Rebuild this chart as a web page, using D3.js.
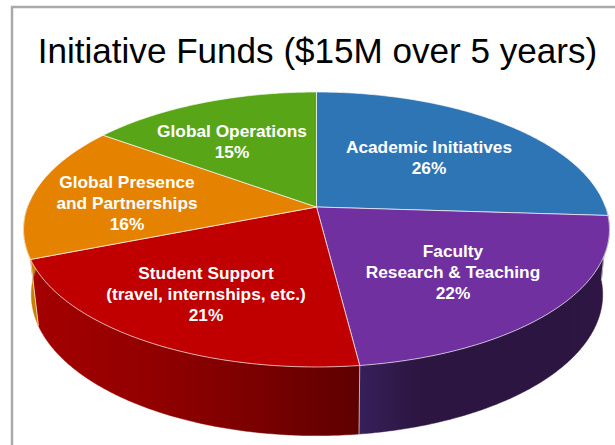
<!DOCTYPE html>
<html>
<head>
<meta charset="utf-8">
<script src="https://cdn.jsdelivr.net/npm/d3@7"></script>
<style>
	html, body { margin: 0; padding: 0; background: #fff; overflow: hidden; }
	svg { display: block; }
	text { font-family: "Liberation Sans", Arial, sans-serif; }
</style>
</head>
<body>
<div class="chart"></div>
<script>
	const title = 'Initiative Funds ($15M over 5 years)'
	const categories = [
		['Academic Initiatives'],
		['Faculty', 'Research & Teaching'],
		['Student Support', '(travel, internships, etc.)'],
		['Global Presence', 'and Partnerships'],
		['Global Operations']
	]
	const shares = [26, 22, 21, 16, 15]
	const topColors = ['#2e75b6', '#7030a0', '#c00000', '#e58300', '#58a618']
	// wall shading, left to right, for each slice
	const wallColors = [
		['#1f4e79', '#1f4e79'],
		['#36205a', '#2c1540', '#2c1540', '#2c1540', '#2f1645'],
		['#a40000', '#940000', '#7c0000', '#5e0000'],
		['#c87e00', '#c87e00'],
		['#3c7010', '#3c7010']
	]

	const width = 615
	const height = 445

	const svg = d3.select('.chart')
		.append('svg')
		.attr('width', width)
		.attr('height', height)

	// frame around the picture, runs off the right and bottom
	svg.append('rect')
		.attr('x', 12)
		.attr('y', 7)
		.attr('width', 640)
		.attr('height', 480)
		.attr('fill', 'none')
		.attr('stroke', '#aaaaaa')
		.attr('stroke-width', 2.5)

	svg.append('text')
		.attr('x', 317.5)
		.attr('y', 63)
		.attr('text-anchor', 'middle')
		.attr('font-size', 35.1)
		.attr('fill', '#000')
		.text(title)

	// the disc is a circle seen in perspective, so the hub sits above the ellipse centre
	const topDisc = { x: 316.5, y: 207, a: 289, b: 133.8, k: 0.1636 }
	const lowDisc = { x: 317, y: 272, a: 282, b: 137.4, k: 0.16 }

	const project = (disc, angle) => {
		const u = Math.sin(angle)
		const v = -Math.cos(angle)
		const w = 1 - disc.k * v
		return [disc.x + disc.a * u / w, disc.y + disc.b * v / w]
	}

	const pie = d3.pie().sort(null)
	const slices = pie(shares)
	const line = d3.line()

	const arcAngles = (from, to) => {
		const n = Math.max(2, Math.ceil((to - from) / 0.01))
		return d3.range(n + 1).map(i => from + (to - from) * i / n)
	}

	const defs = svg.append('defs')

	// only the part of the rim facing us gets a wall
	const frontFrom = Math.PI * 0.5
	const frontTo = Math.PI * 1.5 + 0.02

	const walls = svg.append('g')

	slices.forEach((d, i) => {
		const from = Math.max(d.startAngle, frontFrom)
		const to = Math.min(d.endAngle, frontTo)
		if (to <= from) return

		const angles = arcAngles(from, to)
		const outline = angles.map(a => project(topDisc, a))
			.concat(angles.slice().reverse().map(a => project(lowDisc, a)))
		const xExtent = d3.extent(outline, p => p[0])

		const grad = defs.append('linearGradient')
			.attr('id', `wall${i}`)
			.attr('gradientUnits', 'userSpaceOnUse')
			.attr('x1', xExtent[0])
			.attr('x2', xExtent[1])
			.attr('y1', 0)
			.attr('y2', 0)

		const shade = d3.scalePoint()
			.domain(d3.range(wallColors[i].length))
			.range([0, 1])

		grad.selectAll('stop')
			.data(wallColors[i])
			.enter()
			.append('stop')
			.attr('offset', (c, j) => shade(j))
			.attr('stop-color', c => c)

		walls.append('path')
			.attr('d', line(outline) + 'Z')
			.attr('fill', `url(#wall${i})`)
			.attr('stroke', `url(#wall${i})`)
			.attr('stroke-width', 0.5)

		// pale seam where two walls meet
		if (d.startAngle >= frontFrom && d.startAngle <= frontTo) {
			walls.append('path')
				.attr('d', line([project(topDisc, d.startAngle), project(lowDisc, d.startAngle)]))
				.attr('stroke', '#fff')
				.attr('stroke-opacity', 0.65)
				.attr('stroke-width', 1)
		}
	})

	// top face
	const faces = svg.append('g')

	faces.selectAll('path')
		.data(slices)
		.enter()
		.append('path')
		.attr('d', d => {
			const rim = arcAngles(d.startAngle, d.endAngle).map(a => project(topDisc, a))
			return line([[topDisc.x, topDisc.y]].concat(rim)) + 'Z'
		})
		.attr('fill', (d, i) => topColors[i])
		.attr('stroke', '#fff')
		.attr('stroke-opacity', 0.65)
		.attr('stroke-width', 1)
		.attr('stroke-linejoin', 'round')

	// labels, centre of the text block for each slice
	const labelCentres = [
		[429, 157],
		[453, 272],
		[206, 294],
		[127, 203],
		[232, 141]
	]
	const lineGap = 21

	const labels = svg.append('g')
		.attr('text-anchor', 'middle')
		.attr('font-size', 17.3)
		.attr('font-weight', 'bold')
		.attr('fill', '#fff')

	categories.forEach((rows, i) => {
		const lines = rows.concat(`${shares[i]}%`)
		const top = labelCentres[i][1] - (lines.length - 1) * lineGap / 2 + 6
		lines.forEach((t, j) => {
			labels.append('text')
				.attr('x', labelCentres[i][0])
				.attr('y', top + j * lineGap)
				.text(t)
		})
	})
</script>
</body>
</html>
